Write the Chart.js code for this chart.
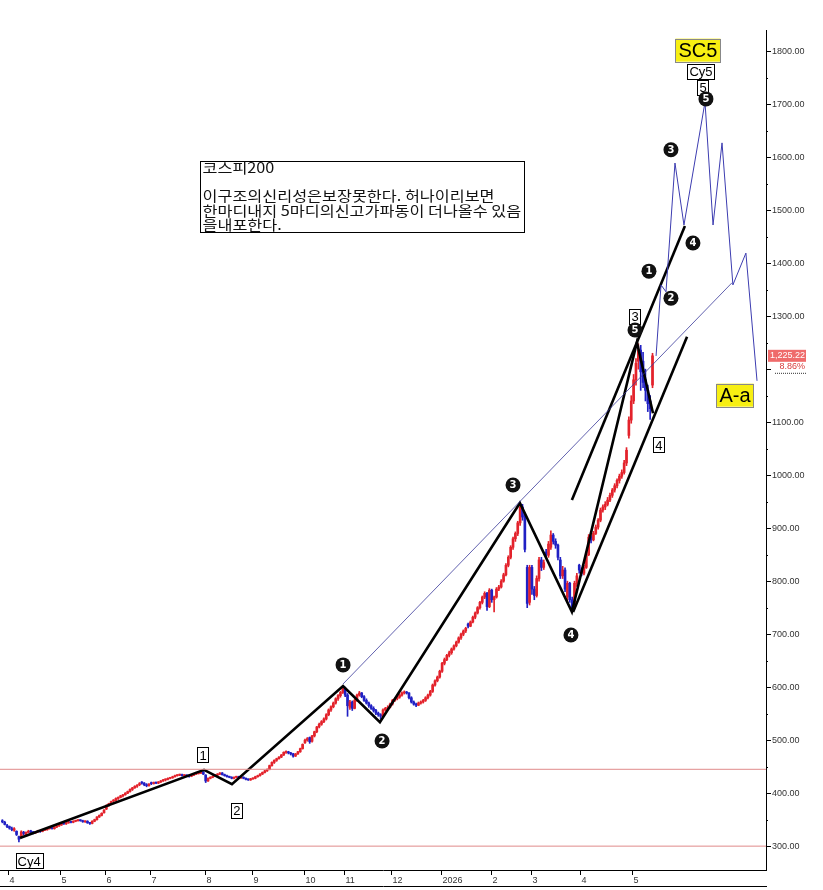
<!DOCTYPE html>
<html>
<head>
<meta charset="utf-8">
<script src="https://cdn.jsdelivr.net/npm/chart.js@4.4.1/dist/chart.umd.min.js"></script>
<style>
  html, body { margin: 0; padding: 0; background: #fff; }
</style>
</head>
<body>
<canvas id="c" width="823" height="890"></canvas>
<script>
// ==========================================
// 1. DATA (trading-day index, 0 = first day of April 2025)
// ==========================================
const firstDay = -3;
// [open, high, low, close]
const candles = [
  [348,350,344,346],[345,347,340,341],[339,341,335,337],
  // Apr
  [337,338,332,334],[333,336,329,331],[330,335,328,333],[328,329,320,322],[318,319,308,313],
  [318,329,317,327],[326,328,321,324],[322,327,321,326],[326,330,325,328],[329,330,324,326],
  [326,328,323,325],[325,328,324,327],[327,330,326,329],[329,330,326,328],[328,331,327,330],
  [330,332,329,331],[331,334,330,333],[333,335,332,334],[334,335,332,333],[333,337,332,336],
  [336,339,335,338],[338,341,337,340],
  // May
  [340,344,339,343],[343,344,341,342],[342,345,341,344],[344,347,343,346],[346,347,344,345],
  [345,348,344,347],[347,349,346,348],[348,350,347,349],[349,350,347,348],[348,349,345,346],
  [346,348,345,347],[347,348,343,344],[344,345,341,343],[343,348,342,347],[347,351,346,350],
  [350,356,349,355],[355,359,354,358],[358,363,357,362],[363,369,362,368],
  // Jun
  [370,378,369,377],[377,381,375,380],[380,385,379,384],[385,388,383,386],[386,391,385,390],
  [390,393,388,392],[392,396,391,395],[395,398,393,397],[397,401,396,400],[400,404,399,403],
  [403,408,402,407],[407,411,405,410],[410,414,409,413],[413,416,411,415],[416,420,414,418],
  [421,422,417,419],[419,420,414,416],[416,418,412,414],[414,418,413,417],
  // Jul
  [419,421,416,418],[418,421,417,420],[420,421,418,419],[419,422,418,421],[421,424,420,423],
  [423,426,422,425],[425,427,423,426],[426,429,425,428],[428,430,427,429],[429,432,428,431],
  [431,434,430,433],[433,435,432,434],[434,436,433,435],[435,436,432,433],[433,435,432,434],
  [434,435,431,432],[433,434,430,432],[432,435,431,434],[434,437,433,436],[436,438,435,437],
  [437,439,436,438],[438,441,437,440],[440,441,435,436],
  // Aug
  [434,435,420,423],[423,429,422,428],[428,431,427,430],[430,433,429,432],[432,435,431,434],
  [434,437,433,436],[436,439,435,438],[438,439,434,435],[435,436,432,433],[433,434,430,431],
  [431,432,429,430],[430,431,427,428],[428,431,427,430],[430,432,429,431],[431,432,428,429],
  [429,431,428,430],[430,431,427,428],[428,429,425,426],[426,427,424,425],[425,428,424,427],
  // Sep
  [427,429,426,428],[428,432,427,431],[431,434,430,433],[433,437,432,436],[436,440,435,439],
  [439,443,438,442],[442,446,441,445],[445,453,444,452],[452,459,451,458],[458,463,456,462],
  [462,466,460,465],[465,469,464,468],[468,473,467,472],[472,478,471,477],[477,480,475,478],
  [478,479,474,476],[476,477,472,474],[474,475,468,470],[470,475,469,474],[474,479,473,478],
  [478,485,477,484],[484,493,483,492],
  // Oct
  [495,502,494,500],[500,505,498,503],[505,506,494,497],[498,509,496,508],[508,517,506,516],
  [516,526,514,525],[525,532,523,530],[530,537,528,535],[535,542,533,540],[540,550,538,548],
  [548,559,546,557],[557,565,554,563],[563,572,561,570],[570,580,568,578],[578,586,575,584],
  [584,592,581,590],[590,602,588,598],
  // Nov
  [598,600,582,585],[585,588,545,565],[562,575,558,572],[572,574,556,560],[560,577,559,575],
  [575,587,573,585],[585,592,583,589],[589,590,580,582],[582,584,573,575],[575,578,568,570],
  [570,572,562,565],[565,567,558,560],[560,563,553,556],[556,558,548,551],[551,553,545,548],
  [548,550,540,545],[545,559,544,557],[557,562,555,560],[560,565,558,562],[562,570,561,568],
  // Dec
  [568,577,566,575],[575,580,573,578],[578,583,576,581],[581,587,579,585],[585,591,583,589],
  [589,593,587,590],[590,592,587,589],[589,590,578,580],[580,582,570,572],[572,574,566,568],
  [568,570,563,566],[566,572,565,570],[570,574,568,572],[572,577,570,575],[575,582,573,580],
  [580,587,578,585],[585,594,583,592],[592,606,590,604],[604,614,602,612],[612,621,610,619],
  [619,632,617,630],
  // Jan 2026
  [630,647,628,645],[645,655,642,652],[652,662,650,660],[660,668,657,665],[665,674,662,672],
  [672,680,670,678],[678,687,676,685],[685,695,683,693],[693,702,690,700],[700,708,697,706],
  [706,713,703,711],[719,721,712,715],[715,725,714,723],[723,734,721,732],[732,742,729,740],
  [740,752,738,750],[750,762,747,760],[760,772,757,770],[770,780,767,777],[777,779,745,752],
  [752,786,750,783],
  // Feb
  [783,785,760,765],[765,772,742,770],[770,788,768,785],[785,792,782,789],[789,803,787,800],
  [800,815,798,812],[812,833,810,830],[830,848,827,845],[845,867,842,864],[864,883,860,880],
  [880,893,875,890],[890,913,886,910],[910,947,905,940],[940,945,915,921],[921,925,855,860],
  [826,830,750,758],[760,830,755,826],
  // Mar
  [826,830,775,785],[785,790,765,773],[773,810,770,805],[805,845,800,840],[840,845,820,826],
  [826,840,822,835],[855,860,845,849],[849,875,845,870],[864,895,860,887],[887,890,870,875],
  [875,880,862,868],[868,870,840,845],[840,845,805,810],[810,828,805,821],[821,825,780,785],
  [770,800,762,796],[796,798,760,765],[765,770,745,750],[752,800,748,796],[796,815,790,810],
  [830,832,815,821],
  // Apr
  [821,825,810,815],[815,830,812,826],[826,855,824,850],[850,888,848,883],[883,886,872,878],
  [878,894,876,890],[890,906,888,902],[902,918,898,915],[915,938,912,934],[934,944,930,940],
  [940,950,935,945],[945,958,942,953],[953,966,950,962],[962,975,958,972],[972,984,968,980],
  [980,993,976,990],[990,1002,985,998],[998,1010,994,1005],[1005,1028,1002,1023],[1023,1052,1018,1047],
  [1075,1110,1070,1104],[1104,1150,1098,1140],
  // May
  [1140,1190,1135,1180],[1180,1220,1170,1211],[1215,1248,1200,1236],[1236,1245,1160,1195],
  [1215,1232,1165,1175],[1180,1200,1140,1160],[1160,1170,1120,1135],[1140,1150,1105,1125.5],
  [1170,1230,1165,1225.22]
];

const lastPrice = 1225.22;
const lastChange = '8.86%';

const monthDays   = [0, 22, 41, 60, 83, 103, 125, 142, 162, 183, 204, 221, 242, 264];
const monthLabels = ['4','5','6','7','8','9','10','11','12','2026','2','3','4','5'];
const yTickValues = [300,400,500,600,700,800,900,1000,1100,1200,1300,1400,1500,1600,1700,1800];

// wave counts (day, price)
const waveMain    = [[4.46,315.5],[82.3,444],[94.1,417],[141.1,602],[156.7,534],[215.9,947.5],[237.9,742],[265.4,1251],[272.2,1117]];
const channelLow  = [[238.4,742],[286.6,1261]];
const channelHigh = [[237.9,953],[285.7,1470]];
const trendThin   = [[141.1,606],[305.6,1363]];
const projection  = [[273.5,1225],[275.6,1359],[277.7,1346],[281.5,1589],[285.3,1472],[294.2,1704],[297.6,1472],[301.4,1627],[306,1359],[311.5,1419],[316.2,1178]];
const levelLines  = [445, 300];

const boxLabels    = [['1',81.9,472],['2',96.2,368],['Cy4',8.3,272],['3',264.6,1300],['4',274.7,1057],['5',293.4,1732],['Cy5',292.5,1761]];
const circleLabels = [['1',141.1,642],['2',157.6,498.5],['3',213,981.5],['4',237.5,698.5],['5',264.6,1274],
                      ['1',270.5,1385],['2',279.8,1334],['3',279.8,1614],['4',289.1,1438],['5',294.6,1710]];
const yellowLabels = [['SC5',291.2,1802],['A-a',306.9,1151]];
const noteAnchor   = [80.6, 1593];
const noteLines    = ['코스피200', '', '이구조의신리성은보장못한다. 허나이리보면', '한마디내지 5마디의신고가파동이 더나올수 있음', '을내포한다.'];

// ==========================================
// 2. DATASETS
// ==========================================
const RED = '#e3222b', BLUE = '#2020c4';
const candleColors = candles.map(c => c[3] >= c[0] ? RED : BLUE);
const toPts = arr => arr.map(p => ({ x: p[0], y: p[1] }));

const lineSet = (pts, color, width) => ({
    type: 'line', data: toPts(pts), borderColor: color, borderWidth: width,
    pointRadius: 0, fill: false, tension: 0, order: 1
});

const datasets = [
    {
        type: 'bar',
        data: candles.map((c, i) => ({ x: firstDay + i, y: [c[2], c[1]] })),
        backgroundColor: candleColors, barThickness: 1, grouped: false, order: 10
    },
    {
        type: 'bar',
        data: candles.map((c, i) => ({ x: firstDay + i, y: [c[0], c[3]] })),
        backgroundColor: candleColors, barThickness: 2, minBarLength: 1, grouped: false, order: 9
    },
    ...levelLines.map(v => lineSet([[-4, v], [320, v]], '#e08a8a', 1)),
    lineSet(trendThin, '#3a3a9a', 0.8),
    lineSet(projection, '#3c3cb0', 1),
    lineSet(waveMain, '#000', 2.6),
    lineSet(channelLow, '#000', 2.6),
    lineSet(channelHigh, '#000', 2.6)
];

// ==========================================
// 3. PLUGIN: AXES + ANNOTATIONS
// ==========================================
const annotPlugin = {
    id: 'annot',
    afterDatasetsDraw(chart) {
        const { ctx, chartArea: a, scales: { x, y } } = chart;
        const px = v => x.getPixelForValue(v), py = v => y.getPixelForValue(v);
        const ty = py(lastPrice);
        ctx.save();

        // right axis
        ctx.strokeStyle = '#000';
        ctx.lineWidth = 1;
        ctx.beginPath();
        ctx.moveTo(a.right + 0.5, a.top);
        ctx.lineTo(a.right + 0.5, a.bottom);
        ctx.stroke();
        ctx.font = '9px "Liberation Sans", Arial, sans-serif';
        ctx.fillStyle = '#333';
        ctx.textBaseline = 'middle';
        ctx.textAlign = 'left';
        yTickValues.forEach(v => {
            const yy = Math.round(py(v)) + 0.5;
            ctx.beginPath(); ctx.moveTo(a.right, yy); ctx.lineTo(a.right + 5, yy); ctx.stroke();
            if (Math.abs(yy - ty - 8) > 12) ctx.fillText(v.toFixed(2), a.right + 6, yy);
            const ym = Math.round(py(v + 50)) + 0.5;
            if (v + 50 < y.max) { ctx.beginPath(); ctx.moveTo(a.right, ym); ctx.lineTo(a.right + 2, ym); ctx.stroke(); }
        });

        // bottom axis
        ctx.beginPath();
        ctx.moveTo(a.left, a.bottom + 0.5); ctx.lineTo(a.right + 1, a.bottom + 0.5);
        ctx.moveTo(a.left, a.bottom + 16.5); ctx.lineTo(a.right + 1, a.bottom + 16.5);
        ctx.stroke();
        ctx.textBaseline = 'top';
        monthDays.forEach((d, i) => {
            const xx = Math.round(px(d - 0.5)) + 0.5;
            ctx.beginPath(); ctx.moveTo(xx, a.bottom); ctx.lineTo(xx, a.bottom + 5); ctx.stroke();
            ctx.fillText(monthLabels[i], xx + 1, a.bottom + 6);
        });

        // last price tag
        ctx.fillStyle = '#ef6b6b';
        ctx.fillRect(a.right + 2, ty - 6, 38, 12);
        ctx.fillStyle = '#fff';
        ctx.textBaseline = 'middle';
        ctx.textAlign = 'right';
        ctx.fillText(lastPrice.toLocaleString('en-US', { minimumFractionDigits: 2 }), a.right + 39, ty);
        ctx.fillStyle = '#d83a3a';
        ctx.fillText(lastChange, a.right + 39, ty + 11);
        ctx.strokeStyle = '#333';
        ctx.setLineDash([1, 1]);
        ctx.beginPath(); ctx.moveTo(a.right + 9, ty + 17.5); ctx.lineTo(a.right + 40, ty + 17.5); ctx.stroke();
        ctx.setLineDash([]);

        // boxed labels
        ctx.textAlign = 'center';
        ctx.textBaseline = 'middle';
        ctx.font = '13px "Liberation Sans", Arial, sans-serif';
        boxLabels.forEach(([t, d, v]) => {
            const cx = px(d), cy = py(v);
            const w = ctx.measureText(t).width + 4, h = 15;
            ctx.fillStyle = '#fff';
            ctx.fillRect(Math.round(cx - w / 2) + 0.5, Math.round(cy - h / 2) + 0.5, Math.round(w), h);
            ctx.strokeStyle = '#000';
            ctx.strokeRect(Math.round(cx - w / 2) + 0.5, Math.round(cy - h / 2) + 0.5, Math.round(w), h);
            ctx.fillStyle = '#000';
            ctx.fillText(t, cx, cy + 1);
        });

        // yellow labels
        ctx.font = '20px "Liberation Sans", Arial, sans-serif';
        yellowLabels.forEach(([t, d, v]) => {
            const cx = px(d), cy = py(v);
            const w = ctx.measureText(t).width + 6, h = 23;
            ctx.fillStyle = '#f7ef12';
            ctx.fillRect(cx - w / 2, cy - h / 2, w, h);
            ctx.strokeStyle = '#888';
            ctx.strokeRect(Math.round(cx - w / 2) + 0.5, Math.round(cy - h / 2) + 0.5, Math.round(w), h);
            ctx.fillStyle = '#000';
            ctx.fillText(t, cx, cy + 1);
        });

        // circled wave numbers
        ctx.font = 'bold 10px "DejaVu Sans", sans-serif';
        circleLabels.forEach(([t, d, v]) => {
            const cx = px(d), cy = py(v);
            ctx.fillStyle = '#111';
            ctx.beginPath(); ctx.arc(cx, cy, 7.5, 0, Math.PI * 2); ctx.fill();
            ctx.fillStyle = '#fff';
            ctx.fillText(t, cx, cy + 0.5);
        });

        // note box
        const nx = Math.round(px(noteAnchor[0])) + 0.5, ny = Math.round(py(noteAnchor[1])) + 0.5;
        ctx.fillStyle = '#fff';
        ctx.fillRect(nx, ny, 324, 71);
        ctx.strokeStyle = '#000';
        ctx.strokeRect(nx, ny, 324, 71);
        ctx.fillStyle = '#111';
        ctx.textAlign = 'left';
        ctx.textBaseline = 'top';
        ctx.font = '14px "Noto Sans CJK KR", sans-serif';
        noteLines.forEach((t, i) => {
            ctx.save();
            ctx.translate(nx + 2, ny - 1 + i * 14.3);
            ctx.scale(1.16, 1);
            ctx.fillText(t, 0, 0);
            ctx.restore();
        });

        ctx.restore();
    }
};

// ==========================================
// 4. CHART
// ==========================================
new Chart(document.getElementById('c'), {
    type: 'bar',
    data: { datasets },
    options: {
        responsive: false,
        animation: false,
        devicePixelRatio: 1,
        layout: { padding: { left: 0, right: 57, top: 30, bottom: 20 } },
        plugins: { legend: { display: false }, tooltip: { enabled: false } },
        scales: {
            x: { type: 'linear', min: -4, max: 320, offset: false, display: false },
            y: { type: 'linear', min: 255, max: 1840, display: false }
        }
    },
    plugins: [annotPlugin]
});
</script>
</body>
</html>
